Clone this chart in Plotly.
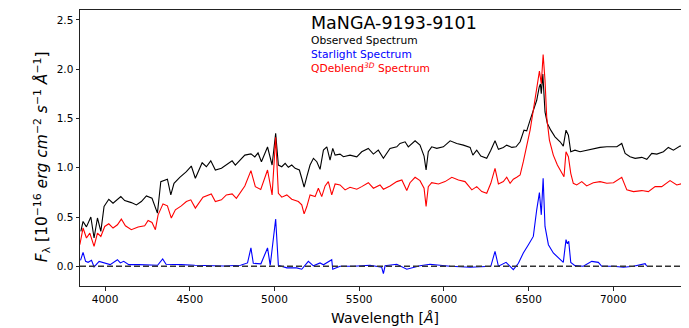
import plotly.graph_objects as go

# ---------------- data ----------------
wl_obs = [3857, 3870, 3890, 3916, 3935, 3955, 3975, 3994, 4022, 4047, 4093, 4116, 4155, 4185,
          4214, 4244, 4277, 4309, 4329, 4368, 4388, 4407, 4441, 4480, 4509, 4533, 4573, 4598,
          4624, 4651, 4687, 4750, 4769, 4825, 4861, 4884, 4903, 4923, 4959, 4986, 5007, 5023,
          5043, 5063, 5082, 5102, 5122, 5147, 5161, 5175, 5191, 5210, 5230, 5250, 5269, 5289,
          5309, 5328, 5344, 5358, 5387, 5407, 5446, 5486, 5515, 5554, 5584, 5613, 5643, 5682,
          5722, 5741, 5771, 5790, 5830, 5859, 5883, 5895, 5908, 5928, 5958, 5997, 6037, 6076,
          6115, 6155, 6171, 6194, 6218, 6253, 6277, 6302, 6322, 6351, 6371, 6401, 6426, 6450,
          6473, 6489, 6509, 6528, 6548, 6563, 6570, 6575, 6584, 6597, 6611, 6631, 6656, 6686,
          6705, 6721, 6735, 6749, 6774, 6804, 6843, 6882, 6922, 6962, 7021, 7050, 7070, 7099,
          7129, 7168, 7198, 7227, 7257, 7296, 7325, 7355, 7394, 7443]
flux_obs = [0.354, 0.455, 0.400, 0.500, 0.287, 0.490, 0.354, 0.606, 0.680, 0.640, 0.707, 0.667, 0.646, 0.623,
            0.657, 0.714, 0.690, 0.539, 0.859, 0.883, 0.724, 0.842, 0.903, 0.960, 1.017, 0.893, 1.050, 1.010,
            1.070, 0.977, 0.994, 1.070, 1.027, 1.128, 1.140, 1.110, 1.150, 1.060, 1.210, 1.027, 1.350, 1.027,
            1.010, 1.044, 1.004, 1.027, 0.994, 0.977, 0.893, 0.802, 0.909, 1.027, 1.095, 1.061, 0.984, 1.179,
            1.212, 1.078, 1.196, 1.128, 1.138, 1.111, 1.128, 1.111, 1.162, 1.196, 1.138, 1.178, 1.095, 1.196,
            1.212, 1.246, 1.263, 1.212, 1.273, 1.229, 1.118, 0.977, 1.162, 1.212, 1.196, 1.212, 1.273, 1.246,
            1.229, 1.206, 1.128, 1.178, 1.118, 1.095, 1.178, 1.273, 1.186, 1.206, 1.229, 1.206, 1.212, 1.263,
            1.381, 1.374, 1.482, 1.583, 1.684, 1.820, 1.850, 1.751, 1.950, 1.566, 1.448, 1.381, 1.313, 1.263,
            1.219, 1.381, 1.330, 1.162, 1.178, 1.162, 1.178, 1.196, 1.206, 1.212, 1.212, 1.246, 1.145, 1.111,
            1.095, 1.105, 1.085, 1.145, 1.138, 1.162, 1.206, 1.178, 1.219, 1.229]

wl_qd = [3851, 3870, 3890, 3910, 3935, 3955, 3975, 3998, 4022, 4047, 4073, 4096, 4120, 4155,
         4195, 4234, 4254, 4277, 4297, 4313, 4342, 4368, 4391, 4415, 4450, 4480, 4506, 4533,
         4578, 4627, 4651, 4687, 4716, 4750, 4775, 4825, 4861, 4887, 4919, 4959, 4986, 5007,
         5023, 5043, 5073, 5102, 5141, 5161, 5175, 5191, 5210, 5240, 5259, 5279, 5299, 5318,
         5338, 5358, 5387, 5417, 5446, 5486, 5515, 5554, 5584, 5623, 5643, 5682, 5722, 5752,
         5781, 5800, 5830, 5859, 5883, 5895, 5908, 5928, 5968, 6007, 6047, 6086, 6125, 6165,
         6194, 6224, 6253, 6277, 6302, 6322, 6351, 6371, 6391, 6410, 6430, 6450, 6469, 6489,
         6509, 6528, 6548, 6564, 6575, 6586, 6597, 6607, 6623, 6646, 6670, 6696, 6709, 6721,
         6735, 6749, 6764, 6784, 6814, 6843, 6882, 6922, 6962, 7001, 7050, 7080, 7119, 7168,
         7207, 7247, 7286, 7335, 7375, 7414, 7443]
flux_qd = [0.219, 0.388, 0.287, 0.337, 0.202, 0.337, 0.303, 0.404, 0.431, 0.388, 0.421, 0.479, 0.411, 0.371,
           0.398, 0.411, 0.465, 0.444, 0.371, 0.522, 0.633, 0.613, 0.489, 0.573, 0.613, 0.657, 0.674, 0.590,
           0.700, 0.734, 0.657, 0.674, 0.724, 0.734, 0.690, 0.815, 0.970, 0.808, 0.780, 0.977, 0.724, 1.310,
           0.741, 0.701, 0.724, 0.681, 0.657, 0.623, 0.532, 0.606, 0.724, 0.707, 0.792, 0.707, 0.815, 0.859,
           0.724, 0.835, 0.825, 0.775, 0.802, 0.782, 0.808, 0.848, 0.792, 0.825, 0.782, 0.815, 0.859, 0.876,
           0.768, 0.848, 0.903, 0.869, 0.792, 0.606, 0.808, 0.848, 0.835, 0.859, 0.903, 0.876, 0.859, 0.775,
           0.808, 0.758, 0.741, 0.842, 0.994, 0.835, 0.859, 0.903, 0.842, 0.883, 0.903, 0.926, 1.061, 1.212,
           1.381, 1.583, 1.818, 1.980, 1.852, 2.149, 1.886, 1.515, 1.280, 1.128, 1.027, 0.943, 0.909, 1.162,
           1.111, 0.943, 0.842, 0.825, 0.859, 0.815, 0.848, 0.859, 0.842, 0.848, 0.903, 0.775, 0.758, 0.768,
           0.758, 0.808, 0.808, 0.869, 0.825, 0.842, 0.859]

wl_sl = [3855, 3870, 3885, 3900, 3920, 3935, 3965, 3998, 4030, 4073, 4090, 4110, 4140, 4200,
         4310, 4340, 4360, 4450, 4530, 4700, 4800, 4841, 4861, 4875, 4920, 4959, 4975, 5007,
         5023, 5073, 5131, 5161, 5200, 5230, 5269, 5289, 5338, 5344, 5387, 5466, 5564, 5633,
         5643, 5653, 5722, 5781, 5859, 5918, 6037, 6155, 6218, 6253, 6277, 6302, 6322, 6367,
         6391, 6410, 6440, 6469, 6499, 6528, 6548, 6564, 6575, 6586, 6597, 6617, 6646, 6676,
         6705, 6721, 6729, 6737, 6749, 6774, 6823, 6873, 6912, 6932, 7001, 7060, 7119, 7188,
         7198]
flux_sl = [0.060, 0.141, 0.050, 0.040, 0.060, -0.006, 0.050, 0.034, 0.017, 0.067, 0.034, 0.050, 0.017, 0.017,
           0.010, 0.074, 0.020, 0.017, 0.010, 0.003, 0.010, 0.034, 0.186, 0.030, 0.025, 0.186, 0.010, 0.480,
           0.010, -0.016, -0.016, -0.030, 0.050, 0.005, 0.034, 0.015, 0.067, -0.030, 0.000, 0.000, 0.010, -0.010,
           -0.074, 0.005, 0.020, -0.030, 0.005, 0.020, 0.000, -0.010, -0.005, 0.000, 0.000, 0.152, 0.000, 0.040,
           0.000, -0.034, 0.030, 0.135, 0.219, 0.303, 0.573, 0.747, 0.522, 0.893, 0.404, 0.219, 0.135, 0.084,
           0.040, 0.270, 0.229, 0.253, 0.040, 0.007, 0.000, 0.050, 0.040, 0.000, 0.000, -0.010, 0.000, 0.027,
           0.000]

x_ticks = [4000, 4500, 5000, 5500, 6000, 6500, 7000]
y_ticks = [0.0, 0.5, 1.0, 1.5, 2.0, 2.5]
x_range = [3852, 7447]
y_range = [-0.2, 2.6]

title_text = "MaNGA-9193-9101"
legend_lines = [("Observed Spectrum", "#000000"),
                ("Starlight Spectrum", "#0000ff"),
                ("QDeblend<sup><i>3D</i></sup> Spectrum", "#ff0000")]

FONT = "DejaVu Sans"

fig = go.Figure()
fig.add_trace(go.Scatter(x=wl_obs, y=flux_obs, mode="lines",
                         line=dict(color="#000000", width=1.1), showlegend=False))
fig.add_trace(go.Scatter(x=wl_qd, y=flux_qd, mode="lines",
                         line=dict(color="#ff0000", width=1.1), showlegend=False))
fig.add_trace(go.Scatter(x=wl_sl, y=flux_sl, mode="lines",
                         line=dict(color="#0000ff", width=1.1), showlegend=False))
# zero reference line
fig.add_trace(go.Scatter(x=x_range, y=[0, 0], mode="lines",
                         line=dict(color="#333333", width=1.5, dash="6px,3px"), showlegend=False))

annotations = [dict(text=title_text, xref="paper", yref="paper", x=0.3765, y=0.952,
                    xanchor="left", yanchor="middle", showarrow=False,
                    font=dict(family=FONT, size=17.5, color="#000000"))]
ys = [0.891, 0.837, 0.789]
for (txt, col), yy in zip(legend_lines, ys):
    annotations.append(dict(text=txt, xref="paper", yref="paper", x=0.3765, y=yy,
                            xanchor="left", yanchor="middle", showarrow=False,
                            font=dict(family=FONT, size=10.7, color=col)))
# axis titles
annotations.append(dict(text="Wavelength [<i>Å</i>]", xref="paper", yref="paper",
                        x=0.5, y=-0.116, xanchor="center", yanchor="middle", showarrow=False,
                        font=dict(family=FONT, size=14, color="#000000")))
annotations.append(dict(text="<i>F</i><sub>λ</sub> [10<sup>−16</sup> <i>erg cm</i><sup>−2</sup> "
                             "<i>s</i><sup>−1</sup> <i>Å</i><sup>−1</sup>]",
                        xref="paper", yref="paper", x=-0.0624, y=0.47, textangle=-90,
                        xanchor="center", yanchor="middle", showarrow=False,
                        font=dict(family=FONT, size=15.5, color="#000000")))

# The page body has an 8px margin, so the figure is sized/offset to compensate.
fig.update_layout(
    width=681, height=318,
    margin=dict(l=72, r=0, t=2, b=40),
    paper_bgcolor="white", plot_bgcolor="white",
    font=dict(family=FONT, color="#000000"),
    annotations=annotations,
    xaxis=dict(range=x_range, tickvals=x_ticks, ticks="outside", ticklen=3.5, tickwidth=1,
               tickcolor="#222222", showline=True, linecolor="#222222", linewidth=1, mirror=True,
               showgrid=False, zeroline=False, tickfont=dict(family=FONT, size=10.5, color="#000000")),
    yaxis=dict(range=y_range, tickvals=y_ticks, tickformat=".1f", ticks="outside", ticklen=3.5,
               tickwidth=1, tickcolor="#222222", showline=True, linecolor="#222222", linewidth=1,
               mirror=False, showgrid=False, zeroline=False,
               tickfont=dict(family=FONT, size=10.5, color="#000000")),
)

fig.write_html("out.html")
